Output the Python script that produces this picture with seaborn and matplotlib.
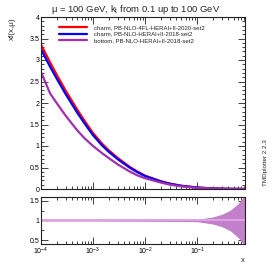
import numpy as np
import pandas as pd
import matplotlib
matplotlib.use("Agg")
import matplotlib.pyplot as plt
from matplotlib.ticker import MultipleLocator, LogLocator, FixedLocator, NullFormatter, FuncFormatter
import seaborn as sns

# ---- data ----
x_vals = [1e-4, 1.5e-4, 2e-4, 3e-4, 5e-4, 7e-4, 1e-3, 1.5e-3, 2e-3, 3e-3, 5e-3, 7e-3,
          1e-2, 2e-2, 3e-2, 5e-2, 0.1, 0.2, 0.4, 0.83]
charm_4fl = [3.36, 2.94, 2.66, 2.28, 1.84, 1.57, 1.30, 1.05, 0.90, 0.72, 0.52, 0.41,
             0.31, 0.18, 0.125, 0.075, 0.035, 0.013, 0.004, 0.0]
charm_vfns = [3.25, 2.84, 2.57, 2.20, 1.77, 1.51, 1.25, 1.01, 0.865, 0.69, 0.50, 0.395,
              0.30, 0.175, 0.12, 0.073, 0.034, 0.013, 0.004, 0.0]
bottom_vfns = [2.72, 2.22, 2.00, 1.70, 1.36, 1.17, 1.00, 0.83, 0.72, 0.57, 0.41, 0.32,
               0.25, 0.15, 0.10, 0.06, 0.028, 0.010, 0.003, 0.0]
labels = ["charm, PB-NLO-4FL-HERAI+II-2020-set2",
          "charm, PB-NLO-HERAI+II-2018-set2",
          "bottom, PB-NLO-HERAI+II-2018-set2"]
colors = ["#ff0000", "#0000ff", "#a030b0"]

ratio_x = [1e-4, 1e-3, 1e-2, 0.05, 0.1, 0.2, 0.3, 0.43, 0.55, 0.65, 0.77, 0.83]
ratio_half = [0.015, 0.015, 0.02, 0.025, 0.03, 0.09, 0.16, 0.26, 0.38, 0.47, 0.60, 0.66]

title = "μ = 100 GeV, k$_\\mathregular{t}$ from 0.1 up to 100 GeV"

# ---- style ----
sns.set_style("ticks")
plt.rcParams["font.family"] = ["Liberation Sans", "DejaVu Sans"]
plt.rcParams["mathtext.fontset"] = "custom"
plt.rcParams["mathtext.rm"] = "Liberation Sans"
plt.rcParams["mathtext.it"] = "Liberation Sans:italic"

W, H = 273, 266
fig = plt.figure(figsize=(W / 100, H / 100), dpi=100)
ax = fig.add_axes([41 / W, 1 - 189 / H, 204 / W, 172 / H])
axr = fig.add_axes([41 / W, 1 - 244 / H, 204 / W, 47 / H])

df = pd.DataFrame({
    "x": x_vals * 3,
    "y": charm_4fl + charm_vfns + bottom_vfns,
    "set": sum([[l] * len(x_vals) for l in labels], []),
})
sns.lineplot(data=df, x="x", y="y", hue="set", hue_order=labels,
             palette=colors, linewidth=1.6, ax=ax, legend=True)

ax.set_xscale("log")
ax.set_xlim(1e-4, 0.83)
ax.set_ylim(0, 4)
ax.yaxis.set_major_locator(MultipleLocator(0.5))
ax.yaxis.set_minor_locator(MultipleLocator(0.1))
ax.yaxis.set_major_formatter(FuncFormatter(lambda v, p: f"{v:g}"))
ax.xaxis.set_major_formatter(NullFormatter())
ax.xaxis.set_minor_formatter(NullFormatter())
ax.set_xlabel("")
ax.set_ylabel("xf(x,μ)", loc="top", fontsize=5.8, labelpad=10)

leg = ax.legend(loc="upper left", bbox_to_anchor=(0.09, 0.955), frameon=False,
                fontsize=4.3, handlelength=4.6, handletextpad=1.2,
                labelspacing=0.25, borderpad=0, borderaxespad=0)
for line in leg.get_lines():
    line.set_linewidth(1.6)

# ratio panel
rdf = pd.DataFrame({"x": ratio_x, "lo": [1 - h for h in ratio_half],
                    "hi": [1 + h for h in ratio_half], "c": [1.0] * len(ratio_x)})
axr.fill_between(rdf["x"], rdf["lo"], rdf["hi"], color="#c27fca", linewidth=0)
sns.lineplot(data=rdf, x="x", y="c", color="#dca4e2", linewidth=1.4, ax=axr)
axr.set_xscale("log")
axr.set_xlim(1e-4, 0.83)
axr.set_ylim(0.4, 1.6)
axr.yaxis.set_major_locator(FixedLocator([0.5, 1.0, 1.5]))
axr.yaxis.set_minor_locator(MultipleLocator(0.25))
axr.yaxis.set_major_formatter(FuncFormatter(lambda v, p: f"{v:g}"))
axr.xaxis.set_major_locator(LogLocator(base=10, numticks=10))
axr.xaxis.set_minor_locator(LogLocator(base=10, subs=np.arange(2, 10), numticks=20))
axr.xaxis.set_minor_formatter(NullFormatter())
axr.xaxis.set_major_formatter(FuncFormatter(lambda v, p: "10$^{%d}$" % round(np.log10(v))))
axr.set_ylabel("")
axr.set_xlabel("")

for a in (ax, axr):
    for s in a.spines.values():
        s.set_linewidth(0.8)
        s.set_color("#222222")
    a.tick_params(which="both", direction="in", top=True, right=True, width=0.6,
                  colors="#222222", labelsize=5, pad=1)
    a.tick_params(which="major", length=5)
    a.tick_params(which="minor", length=2.5)
    for lbl in a.get_xticklabels() + a.get_yticklabels():
        lbl.set_color("black")

fig.text(0.498, 1 - 10 / H, title, ha="center", va="center", fontsize=6.8)
fig.text(243 / W, 1 - 261 / H, "x", ha="center", va="center", fontsize=5.5)
fig.text(265 / W, 1 - 163 / H, "TMDplotter 2.2.3", rotation=90, ha="center",
         va="center", fontsize=4.5)

fig.savefig("out.png", dpi=100)
